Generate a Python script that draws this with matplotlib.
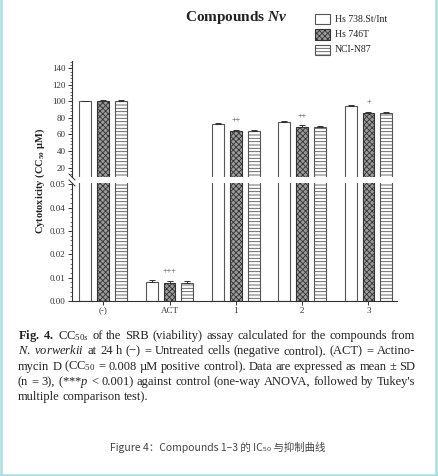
"""Broken-axis bar chart of CC50 values (Compounds Nv) with the figure caption."""
import re

import matplotlib
matplotlib.use("Agg")
import matplotlib.pyplot as plt                                    # noqa: E402
import numpy as np                                                 # noqa: E402
from matplotlib.lines import Line2D                                # noqa: E402
from matplotlib.patches import Rectangle                           # noqa: E402
from matplotlib.ticker import MultipleLocator, FormatStrFormatter  # noqa: E402

plt.rcParams["font.family"] = ["Liberation Serif", "DejaVu Serif"]
plt.rcParams["mathtext.fontset"] = "custom"
plt.rcParams["mathtext.rm"] = "Liberation Serif"
plt.rcParams["mathtext.it"] = "Liberation Serif:italic"
plt.rcParams["mathtext.bf"] = "Liberation Serif:bold"
plt.rcParams["mathtext.sf"] = "Liberation Serif:bold:italic"
plt.rcParams["hatch.linewidth"] = 0.6

# ---- data -------------------------------------------------------------
groups = ["(-)", "ACT", "1", "2", "3"]
series = ["Hs 738.St/Int", "Hs 746T", "NCI-N87"]
hs738 = [100.0, 0.0081, 73.0, 75.5, 94.0]
hs746 = [100.0, 0.0079, 64.0, 69.5, 86.5]
ncin87 = [100.0, 0.0079, 64.0, 69.0, 86.0]
err738 = [1.0, 0.0008, 1.5, 1.2, 1.5]
err746 = [1.5, 0.0005, 1.2, 1.5, 1.2]
err87 = [1.2, 0.0005, 1.5, 1.5, 1.5]
signif = ["", "+++", "++", "++", "+"]

STYLES = [
    dict(facecolor="white", edgecolor="#555555", hatch=None),
    dict(facecolor="#9a9a9a", edgecolor="#333333", hatch="xxxxxx"),
    dict(facecolor="white", edgecolor="#555555", hatch="-----"),
]

CAPTION = [
    r"$\mathbf{Fig.\ 4.}$ CC$_{50s}$ of the SRB (viability) assay calculated for the compounds from",
    r"$\mathit{N.\ vorwerkii}$ at 24 h (−) = Untreated cells (negative control). (ACT) = Actino-",
    r"mycin D (CC$_{50}$ = 0.008 µM positive control). Data are expressed as mean ± SD",
    r"(n = 3), (***$\mathit{p}$ < 0.001) against control (one-way ANOVA, followed by Tukey's",
    "multiple comparison test).",
]

W, H = 438, 476


def fx(px):
    return px / W


def fy(py):
    return 1 - py / H


def justify(fig, line, x0, x1, y, size, last=False):
    """Place the words of one caption line so it fills x0..x1 (pixels)."""
    r = fig.canvas.get_renderer()
    words = re.findall(r"(?:\$[^$]*\$|[^ $])+", line)
    arts = [fig.text(0, fy(y), w, fontsize=size, va="baseline", color="#222222")
            for w in words]
    widths = [a.get_window_extent(r).width for a in arts]
    gap = size * 0.25 * fig.dpi / 72
    if not last:
        gap = ((x1 - x0) - sum(widths)) / (len(words) - 1)
    x = x0
    for a, w in zip(arts, widths):
        a.set_x(fx(x))
        x += w + gap


def main():
    fig = plt.figure(figsize=(W / 100, H / 100), dpi=100)
    left, right = fx(72), fx(397)
    ax_top = fig.add_axes([left, fy(177), right - left, fy(61) - fy(177)])
    ax_bot = fig.add_axes([left, fy(301), right - left, fy(183) - fy(301)])

    x = np.arange(len(groups))
    step, width = 0.27, 0.18
    vals = [hs738, hs746, ncin87]
    errs = [err738, err746, err87]
    for ax in (ax_top, ax_bot):
        for i, (v, e, st) in enumerate(zip(vals, errs, STYLES)):
            xi = x + (i - 1) * step
            ax.bar(xi, v, width, linewidth=0.8, zorder=2, **st)
            ax.errorbar(xi, v, yerr=[np.zeros(len(e)), e], fmt="none",
                        ecolor="#333333", elinewidth=0.7, capsize=2,
                        capthick=0.7, zorder=3)
        ax.set_xlim(-0.47, 4.43)
        for s in ("top", "right"):
            ax.spines[s].set_visible(False)
        for s in ("left", "bottom"):
            ax.spines[s].set_color("#333333")
            ax.spines[s].set_linewidth(0.8)
        ax.tick_params(axis="both", which="major", direction="out", length=3,
                       width=0.7, color="#333333", labelsize=6.5,
                       labelcolor="#333333", pad=1.5)
        ax.tick_params(axis="y", which="minor", direction="out", length=1.5,
                       width=0.5, color="#333333")

    ax_top.set_ylim(8.5, 149)
    ax_top.yaxis.set_major_locator(MultipleLocator(20))
    ax_top.yaxis.set_minor_locator(MultipleLocator(4))
    ax_top.spines["bottom"].set_visible(False)
    ax_top.set_xticks([])

    ax_bot.set_ylim(0, 0.0506)
    ax_bot.yaxis.set_major_locator(MultipleLocator(0.01))
    ax_bot.yaxis.set_minor_locator(MultipleLocator(0.002))
    ax_bot.yaxis.set_major_formatter(FormatStrFormatter("%.2f"))
    ax_bot.set_xticks(x)
    ax_bot.set_xticklabels(groups)

    for gi, mark in enumerate(signif):
        if not mark:
            continue
        if groups[gi] == "ACT":
            ax_bot.text(x[gi], hs746[gi] + 0.0047, mark, ha="center",
                        va="center", fontsize=6, color="#333333")
        else:
            ax_top.text(x[gi], hs746[gi] + 13, mark, ha="center",
                        va="center", fontsize=6, color="#333333")

    # break marks on the y axis
    for py in (177, 183):
        fig.add_artist(Line2D([fx(69), fx(75)], [fy(py - 3), fy(py + 3)],
                              color="#333333", lw=0.7))

    fig.text(fx(40), fy(181), r"Cytotoxicity (CC$_{\mathbf{50}}$ µM)",
             rotation=90, ha="center", va="center", fontsize=7.5,
             fontweight="bold", color="#222222")
    fig.text(fx(236), fy(17), r"Compounds $\mathsf{Nv}$", ha="center",
             va="center", fontsize=11, fontweight="bold", color="#222222")

    for i, (name, st) in enumerate(zip(series, STYLES)):
        yc = 19 + i * 15.5
        fig.add_artist(Rectangle((fx(315), fy(yc + 5)), fx(15), fy(yc - 5) - fy(yc + 5),
                                 transform=fig.transFigure, linewidth=0.8, **st))
        fig.text(fx(335), fy(yc), name, ha="left", va="center", fontsize=7,
                 color="#222222")

    for i, line in enumerate(CAPTION):
        justify(fig, line, 18, 415, 339 + i * 15.3, 9,
                last=(i == len(CAPTION) - 1))

    fig.text(fx(218), fy(447), "Figure 4：Compounds 1–3 的 IC₅₀ 与抑制曲线",
             ha="center", va="center", fontsize=7.5, color="#444444",
             family=["Noto Sans CJK SC", "DejaVu Sans"])

    border = "#a9dfe0"
    fig.add_artist(Line2D([fx(1), fx(1)], [0, 1], color=border, lw=1.8))
    fig.add_artist(Line2D([fx(436), fx(436)], [0, 1], color=border, lw=1.8))
    fig.add_artist(Line2D([0, 1], [fy(475), fy(475)], color=border, lw=1.8))

    fig.savefig("out.png", dpi=100)
    return 0


if __name__ == "__main__":
    raise SystemExit(main())
